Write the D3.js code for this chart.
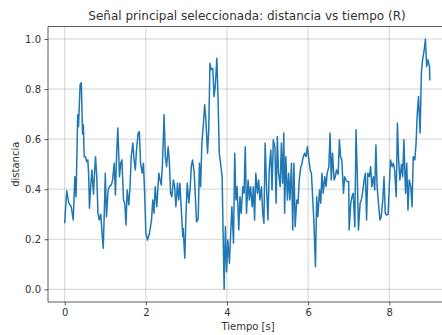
<!DOCTYPE html>
<html>
<head>
<meta charset="utf-8">
<script src="https://cdn.jsdelivr.net/npm/d3@7"></script>
<style>
  body { margin: 0; background: #fff; }
  svg { display: block; font-family: "DejaVu Sans", sans-serif; }
</style>
</head>
<body>
<svg id="chart"></svg>
<script>
// tiempo [s]
var tiempo = [
  0.00,0.05,0.10,0.16,0.21,0.25,0.28,0.32,0.34,0.38,0.41,0.44,0.46,0.48,0.51,0.54,0.57,0.59,0.61,0.64,0.67,0.71,0.74,0.76,0.79,0.82,0.85,0.89,0.92,0.95,0.98,
  1.00,1.03,1.07,1.10,1.15,1.18,1.22,1.25,1.28,1.31,1.35,1.38,1.41,1.45,1.48,1.51,1.54,1.58,1.61,1.64,1.68,1.71,1.74,1.77,1.81,1.84,1.87,1.91,1.94,1.97,
  2.00,2.04,2.09,2.14,2.17,2.20,2.23,2.27,2.32,2.35,2.38,2.41,2.45,2.48,2.51,2.55,2.58,2.61,2.64,2.68,2.71,2.74,2.78,2.81,2.84,2.87,2.91,2.92,2.96,2.99,
  3.02,3.06,3.09,3.12,3.15,3.19,3.22,3.25,3.29,3.32,3.35,3.38,3.42,3.45,3.48,3.52,3.55,3.58,3.61,3.65,3.68,3.71,3.75,3.78,3.81,3.84,3.88,3.91,3.93,3.96,3.99,
  4.02,4.06,4.09,4.12,4.16,4.19,4.22,4.25,4.29,4.32,4.35,4.39,4.42,4.45,4.48,4.52,4.55,4.58,4.62,4.65,4.68,4.71,4.75,4.78,4.81,4.85,4.88,4.91,4.94,4.98,
  5.01,5.04,5.08,5.11,5.14,5.18,5.21,5.24,5.27,5.31,5.34,5.37,5.40,5.42,5.45,5.49,5.52,5.55,5.59,5.62,5.65,5.68,5.72,5.75,5.78,5.82,5.85,5.88,5.91,5.95,5.98,
  6.01,6.05,6.08,6.11,6.14,6.18,6.21,6.24,6.28,6.31,6.34,6.37,6.41,6.44,6.47,6.51,6.54,6.57,6.60,6.64,6.67,6.70,6.74,6.77,6.80,6.83,6.87,6.90,6.93,6.97,7.00,
  7.01,7.05,7.08,7.11,7.15,7.18,7.21,7.24,7.28,7.31,7.34,7.38,7.41,7.44,7.47,7.51,7.54,7.57,7.61,7.64,7.67,7.70,7.74,7.77,7.80,7.84,7.87,7.90,7.93,7.97,8.00,
  8.03,8.07,8.10,8.13,8.17,8.20,8.23,8.26,8.30,8.33,8.36,8.40,8.43,8.46,8.49,8.53,8.56,8.59,8.63,8.66,8.69,8.72,8.76,8.79,8.82,8.86,8.89,8.92,8.95,8.99,9.00
];

// distancia (normalised)
var distancia = [
  0.267,0.394,0.344,0.33,0.277,0.45,0.37,0.697,0.65,0.817,0.826,0.62,0.657,0.53,0.53,0.51,0.517,0.46,0.324,0.41,0.477,0.38,0.48,0.53,0.45,0.304,0.277,0.30,0.224,0.164,0.33,
  0.464,0.29,0.397,0.41,0.417,0.437,0.504,0.377,0.544,0.644,0.45,0.504,0.517,0.357,0.344,0.257,0.397,0.337,0.41,0.53,0.584,0.517,0.477,0.557,0.624,0.63,0.504,0.464,0.504,0.384,
  0.224,0.197,0.224,0.277,0.357,0.304,0.41,0.33,0.464,0.437,0.417,0.504,0.697,0.53,0.49,0.57,0.504,0.384,0.37,0.437,0.41,0.33,0.424,0.357,0.424,0.33,0.21,0.244,0.124,0.304,
  0.424,0.345,0.40,0.49,0.517,0.47,0.37,0.27,0.28,0.504,0.41,0.584,0.664,0.737,0.677,0.544,0.637,0.903,0.877,0.883,0.77,0.81,0.923,0.757,0.544,0.504,0.45,0.17,0.0,0.25,0.07,
  0.197,0.104,0.224,0.33,0.184,0.544,0.357,0.41,0.237,0.37,0.304,0.41,0.384,0.57,0.304,0.437,0.357,0.41,0.33,0.41,0.277,0.464,0.384,0.437,0.357,0.41,0.304,0.264,0.584,0.384,
  0.277,0.477,0.557,0.397,0.597,0.57,0.344,0.61,0.464,0.41,0.584,0.424,0.624,0.304,0.53,0.357,0.464,0.357,0.504,0.237,0.504,0.25,0.357,0.344,0.437,0.49,0.504,0.53,0.544,0.53,0.57,
  0.53,0.477,0.464,0.37,0.277,0.09,0.37,0.29,0.397,0.344,0.464,0.384,0.45,0.41,0.464,0.49,0.624,0.437,0.544,0.437,0.45,0.477,0.46,0.597,0.53,0.517,0.384,0.45,0.437,0.43,0.43,
  0.237,0.344,0.37,0.384,0.25,0.637,0.464,0.237,0.344,0.357,0.384,0.437,0.464,0.277,0.464,0.45,0.49,0.41,0.45,0.397,0.577,0.41,0.33,0.277,0.29,0.357,0.45,0.304,0.297,0.30,0.41,
  0.517,0.49,0.504,0.477,0.37,0.664,0.517,0.437,0.50,0.45,0.597,0.384,0.504,0.317,0.437,0.41,0.33,0.53,0.517,0.584,0.704,0.77,0.624,0.863,0.917,0.957,1.0,0.89,0.917,0.89,0.837
];

var xTicks = [0, 2, 4, 6, 8];
var yTicks = [0.0, 0.2, 0.4, 0.6, 0.8, 1.0];

var titulo = "Señal principal seleccionada: distancia vs tiempo (R)";
var xLabel = "Tiempo [s]";
var yLabel = "distancia";

var svgWidth = 442, svgHeight = 335;
// plot box (right edge runs past the picture, as in the reference)
var box = { left: 48, top: 26.5, right: 448, bottom: 302 };

var svg = d3.select("#chart")
    .attr("width", svgWidth)
    .attr("height", svgHeight);

var x = d3.scaleLinear().domain([0, 8]).range([64.7, 389.3]);
var y = d3.scaleLinear().domain([0, 1]).range([289.3, 39]);

var data = d3.zip(tiempo, distancia);

svg.append("clipPath").attr("id", "clip")
  .append("rect")
    .attr("x", box.left).attr("y", box.top)
    .attr("width", box.right - box.left).attr("height", box.bottom - box.top);

// grid
var grid = svg.append("g").attr("stroke", "#b0b0b0").attr("stroke-opacity", 0.7).attr("stroke-width", 0.8);
grid.selectAll(".gx").data(xTicks).enter().append("line")
    .attr("x1", function(d) { return x(d); }).attr("x2", function(d) { return x(d); })
    .attr("y1", box.top).attr("y2", box.bottom);
grid.selectAll(".gy").data(yTicks).enter().append("line")
    .attr("x1", box.left).attr("x2", box.right)
    .attr("y1", function(d) { return y(d); }).attr("y2", function(d) { return y(d); });

// signal
var line = d3.line()
    .x(function(d) { return x(d[0]); })
    .y(function(d) { return y(d[1]); });

svg.append("path")
    .datum(data)
    .attr("clip-path", "url(#clip)")
    .attr("fill", "none")
    .attr("stroke", "#1f77b4")
    .attr("stroke-width", 1.5)
    .attr("stroke-linejoin", "round")
    .attr("stroke-linecap", "square")
    .attr("d", line);

// axes
var xAxis = svg.append("g")
    .attr("transform", "translate(0," + box.bottom + ")")
    .call(d3.axisBottom(x).tickValues(xTicks).tickFormat(d3.format("d")).tickSize(3.5).tickPadding(3.5));
var yAxis = svg.append("g")
    .attr("transform", "translate(" + box.left + ",0)")
    .call(d3.axisLeft(y).tickValues(yTicks).tickFormat(d3.format(".1f")).tickSize(3.5).tickPadding(3.5));

[xAxis, yAxis].forEach(function(a) {
  a.select(".domain").remove();
  a.selectAll(".tick line").attr("stroke", "#333").attr("stroke-width", 0.8);
  a.selectAll(".tick text").attr("fill", "#333").style("font-size", "10px").style("font-family", "DejaVu Sans");
});

// spines
var spines = svg.append("g").attr("stroke", "#333").attr("stroke-width", 0.8).attr("fill", "none");
spines.append("line").attr("x1", box.left).attr("x2", box.left).attr("y1", box.top).attr("y2", box.bottom);
spines.append("line").attr("x1", box.left).attr("x2", box.right).attr("y1", box.bottom).attr("y2", box.bottom);
spines.append("line").attr("x1", box.left).attr("x2", box.right).attr("y1", box.top).attr("y2", box.top);

// labels
svg.append("text")
    .attr("x", 247).attr("y", 20)
    .attr("text-anchor", "middle")
    .attr("fill", "#333")
    .style("font-size", "12px")
    .text(titulo);

svg.append("text")
    .attr("x", 248).attr("y", 330)
    .attr("text-anchor", "middle")
    .attr("fill", "#333")
    .style("font-size", "10px")
    .text(xLabel);

svg.append("text")
    .attr("transform", "translate(19," + ((box.top + box.bottom) / 2) + ") rotate(-90)")
    .attr("text-anchor", "middle")
    .attr("fill", "#333")
    .style("font-size", "10px")
    .text(yLabel);
</script>
</body>
</html>
